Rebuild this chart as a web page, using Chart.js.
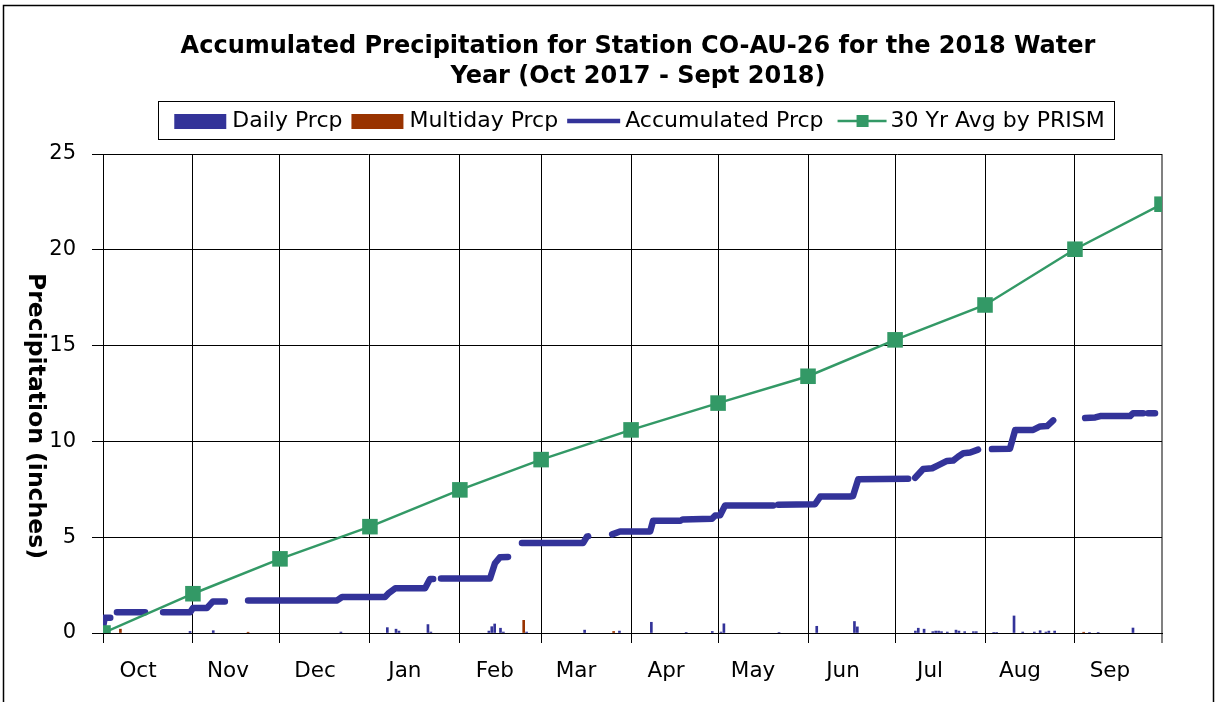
<!DOCTYPE html>
<html><head><meta charset="utf-8">
<script src="https://cdn.jsdelivr.net/npm/chart.js@4.4.1/dist/chart.umd.min.js"></script>
<style>html,body{margin:0;padding:0;background:#fff;}canvas{display:block;}</style>
</head><body>
<canvas id="c" width="1217" height="702"></canvas>
<script>
// ---- data (days since Oct 1 2017) ----
const monthStarts = [0,31,61,92,123,151,182,212,243,273,304,335,365];
const monthLabels = ['Oct','Nov','Dec','Jan','Feb','Mar','Apr','May','Jun','Jul','Aug','Sep',''];
const prismAvg = [0,2.05,3.87,5.55,7.47,9.05,10.6,12.0,13.4,15.3,17.12,20.03,22.38];

const accumDay = [0,0.6,2.5,3.5, 4.8,14.5,17, 20.7,30,31,35.8,37.9,42,46,
  50,80.7,82.4,97.2,98.6,100.7,111,112.7,113.8,115,
  116.5,133.4,135.1,136.8,139.6,142,
  144.4,165.5,166.8,167.2,171,
  175.5,178.2,188.6,189.6,198.9,199.4,
  199.9,209.9,211,212.7,214.4,231,232,
  232.7,245.4,247.2,257.5,258.5,260.3,277.5,278.7,
  279.9,282.7,285.8,287.8,290.9,293,294.7,296.5,298.9,301.6,304,
  306.4,312.6,314.4,320.6,323,325.4,327.5,333,
  338.5,342,343.7,354,355,358.5,359.3,
  360.2,362.6];
const accumPrcp = [0.3,0.8,0.8,null, 1.08,1.08,null, 1.08,1.08,1.3,1.3,1.65,1.65,null,
  1.7,1.7,1.88,1.88,2.1,2.33,2.33,2.82,2.82,null,
  2.85,2.85,3.64,3.95,3.97,null,
  4.7,4.7,5.03,5.05,null,
  5.15,5.3,5.3,5.86,5.86,null,
  5.93,5.96,6.13,6.15,6.65,6.66,null,
  6.7,6.72,7.12,7.12,7.15,8.02,8.05,null,
  8.1,8.56,8.6,8.75,8.98,9.0,9.2,9.38,9.42,9.57,null,
  9.6,9.62,10.6,10.6,10.78,10.8,11.1,null,
  11.22,11.25,11.32,11.32,11.47,11.47,null,
  11.47,11.47];

const dailyDay = [30,38,82,98,101,102,112,113,133,134,135,137,138,146,166,178,189,201,210,213,214,233,246,259,260,
  280,281,283,286,287,288,289,291,294,295,297,300,301,307,308,314,317,321,323,325,326,328,340,343,355];
const dailyPrcp = [0.08,0.12,0.05,0.28,0.2,0.1,0.44,0.05,0.1,0.33,0.47,0.25,0.05,0.05,0.15,0.1,0.56,0.03,0.08,0.05,0.48,0.03,0.35,0.6,0.32,
  0.1,0.25,0.2,0.07,0.1,0.1,0.07,0.05,0.15,0.1,0.07,0.07,0.07,0.03,0.03,0.89,0.05,0.05,0.12,0.05,0.1,0.1,0.03,0.03,0.26];

const multiDay = [6,50,145,176,338];
const multiPrcp = [0.2,0.04,0.66,0.08,0.04];

const yTicks = [0,5,10,15,20,25];

// ---- styles ----
const FONT = '"DejaVu Sans", sans-serif';
const BLUE = '#333399', RED = '#993300', GREEN = '#339966';

const pts = (xs, ys) => xs.map((x, i) => ({x: x, y: ys[i]}));

const decor = {
  id: 'decor',
  afterLayout(chart) {
    // let the y tick labels use the space left of the axis box (no clipping)
    chart.scales.y.left = 0;
  },
  beforeDraw(chart) {
    const c = chart.ctx;
    c.save();
    c.fillStyle = '#fff';
    c.fillRect(0, 0, chart.width, chart.height);
    c.strokeStyle = '#000';
    c.lineWidth = 1.5;
    c.strokeRect(3.5, 5.5, 1210, 720);
    c.restore();
  },
  afterDraw(chart) {
    const c = chart.ctx;
    const lg = chart.legend;
    const hb = lg.legendHitBoxes;
    c.save();
    hb.forEach((b, i) => {
      const cy = b.top + b.height / 2;
      const x0 = b.left;
      if (i === 0 || i === 1) {
        c.fillStyle = i === 0 ? BLUE : RED;
        c.fillRect(x0 + 3, cy - 7, 52, 15);
      } else if (i === 2) {
        c.strokeStyle = BLUE; c.lineWidth = 4.5; c.lineCap = 'butt';
        c.beginPath(); c.moveTo(x0 + 3, cy); c.lineTo(x0 + 56, cy); c.stroke();
      } else {
        c.strokeStyle = GREEN; c.lineWidth = 2.5;
        c.beginPath(); c.moveTo(x0 + 8, cy); c.lineTo(x0 + 57, cy); c.stroke();
        c.fillStyle = GREEN; c.fillRect(x0 + 27, cy - 6, 12, 12);
      }
    });
    const first = hb[0], last = hb[hb.length - 1];
    const cy = first.top + first.height / 2;
    const bl = Math.round(first.left + 3 - 16);
    const br = Math.round(last.left + last.width + 9);
    c.strokeStyle = '#000'; c.lineWidth = 1;
    c.strokeRect(bl + 0.5, Math.round(cy - 20) + 0.5, br - bl, 38);
    c.translate(35, 416);
    c.rotate(Math.PI / 2);
    c.fillStyle = '#000';
    c.font = 'bold 23.5px ' + FONT;
    c.textAlign = 'center';
    c.textBaseline = 'middle';
    c.fillText('Precipitation (inches)', 0, 0);
    c.restore();
  }
};

new Chart(document.getElementById('c'), {
  type: 'line',
  data: {
    datasets: [
      {label: 'Daily Prcp', type: 'bar', data: pts(dailyDay, dailyPrcp), backgroundColor: BLUE,
        borderWidth: 0, barThickness: 2, grouped: false, order: 3},
      {label: 'Multiday Prcp', type: 'bar', data: pts(multiDay, multiPrcp), backgroundColor: RED,
        borderWidth: 0, barThickness: 2, grouped: false, order: 2},
      {label: 'Accumulated Prcp', type: 'line', data: pts(accumDay, accumPrcp), borderColor: BLUE,
        backgroundColor: BLUE, borderWidth: 6.5, pointRadius: 0, borderCapStyle: 'round',
        borderJoinStyle: 'round', spanGaps: false, tension: 0, order: 1},
      {label: '30 Yr Avg by PRISM', type: 'line', data: pts(monthStarts, prismAvg), borderColor: GREEN,
        backgroundColor: GREEN, borderWidth: 2.5, pointStyle: 'rect', pointRadius: 11,
        pointBorderWidth: 0, pointBackgroundColor: GREEN, tension: 0, order: 0}
    ]
  },
  options: {
    responsive: false,
    animation: false,
    devicePixelRatio: 1,
    layout: {padding: {left: 59, right: 0, top: 0, bottom: 0}},
    plugins: {
      tooltip: {enabled: false},
      title: {
        display: true,
        text: ['Accumulated Precipitation for Station CO-AU-26 for the 2018 Water', 'Year (Oct 2017 - Sept 2018)'],
        color: '#000',
        font: {family: FONT, size: 24, weight: 'bold', lineHeight: 1.25},
        padding: {top: 32, bottom: 0}
      },
      legend: {
        display: true,
        position: 'top',
        labels: {
          font: {family: FONT, size: 22},
          color: '#000',
          boxWidth: 50,
          boxHeight: 46,
          padding: 6,
          sort: (a, b) => a.datasetIndex - b.datasetIndex,
          generateLabels: (chart) => chart.data.datasets.map((ds, i) => ({
            text: ds.label, datasetIndex: i, fillStyle: 'rgba(0,0,0,0)',
            strokeStyle: 'rgba(0,0,0,0)', lineWidth: 0, hidden: false, fontColor: '#000'
          }))
        }
      }
    },
    scales: {
      x: {
        type: 'linear', min: 0, max: 365, offset: false,
        afterBuildTicks: (s) => { s.ticks = monthStarts.map(v => ({value: v})); },
        afterFit: (s) => { s.height = 69; },
        ticks: {
          autoSkip: false, maxRotation: 0, minRotation: 0,
          callback: (v, i) => monthLabels[i],
          labelOffset: 35, padding: 16, color: '#000',
          font: {family: FONT, size: 21.5}
        },
        grid: {
          offset: false,
          color: (ctx) => ctx.index === 12 ? '#808080' : '#000',
          lineWidth: (ctx) => ctx.index === 12 ? 2 : 1,
          tickLength: 10
        },
        border: {color: '#000', width: 1}
      },
      y: {
        min: 0, max: 25,
        afterBuildTicks: (s) => { s.ticks = yTicks.map(v => ({value: v})); },
        afterFit: (s) => { s.width = 44; },
        ticks: {padding: 16, color: '#000', font: {family: FONT, size: 21}},
        grid: {offset: false, color: '#000', lineWidth: 1, tickLength: 11},
        border: {color: '#000', width: 1}
      },
      y2: {
        position: 'right', display: true,
        grid: {display: false}, border: {display: false}, ticks: {display: false},
        afterFit: (s) => { s.width = 55; }
      }
    }
  },
  plugins: [decor]
});
</script>
</body></html>
